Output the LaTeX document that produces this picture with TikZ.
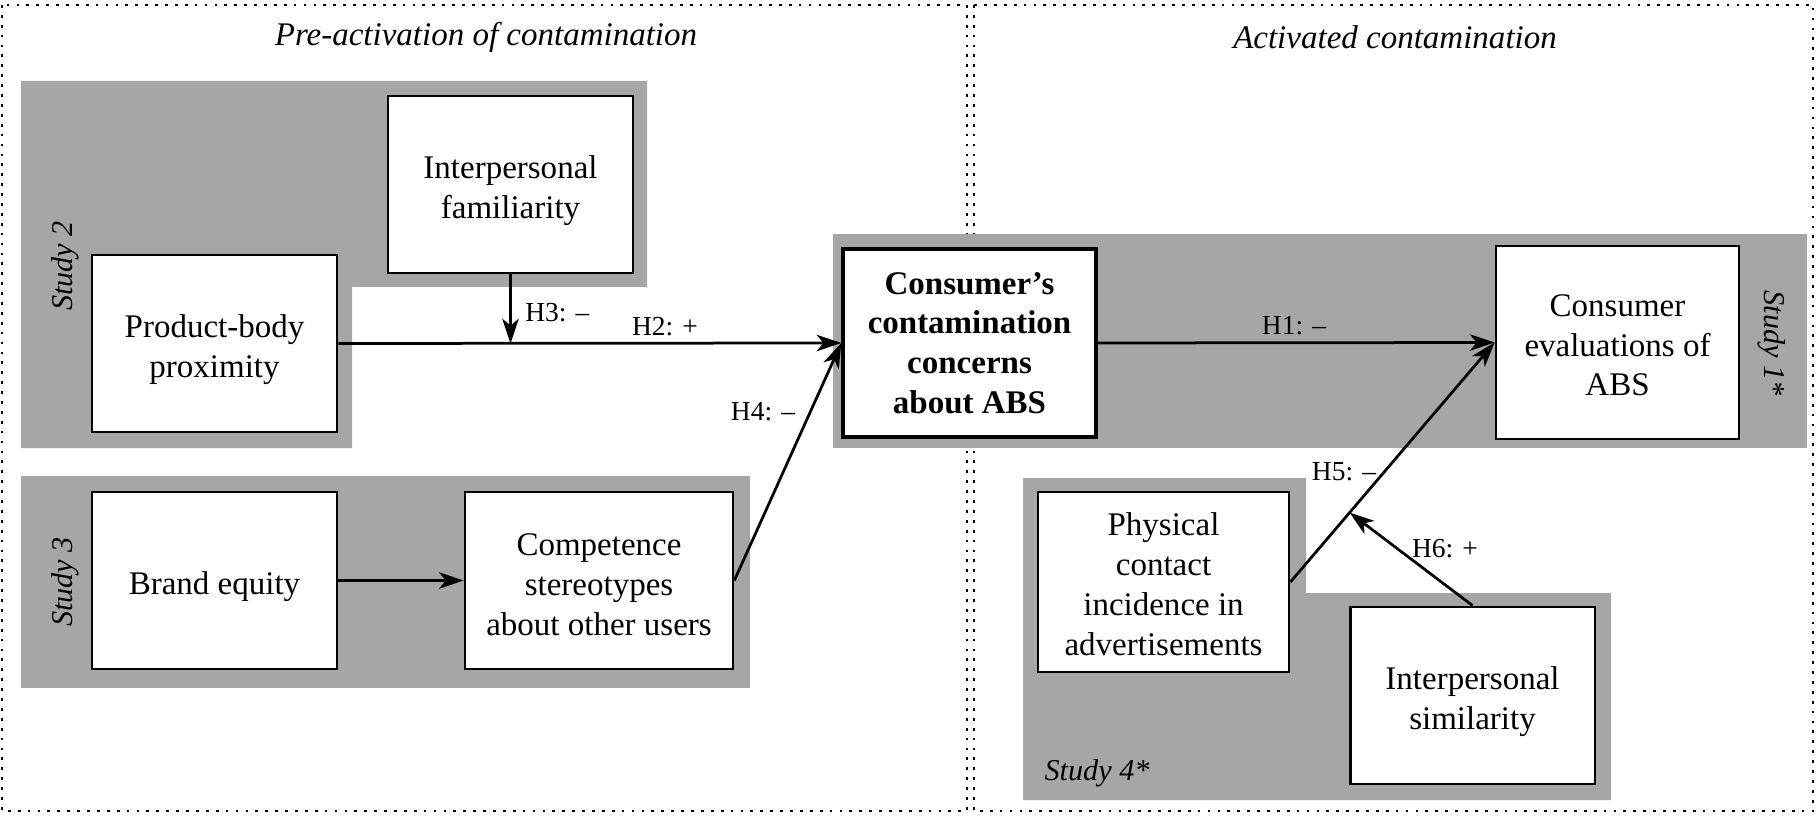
\documentclass[tikz,border=0pt]{standalone}
\usepackage{fontspec}
\setmainfont{Liberation Serif}
\usetikzlibrary{arrows.meta,calc}
\definecolor{studygray}{RGB}{166,166,166}
\newcommand{\topgap}[1]{\rule{0pt}{#1}}

\begin{document}
\begin{tikzpicture}[x=0.3636pt,y=-0.3636pt,
        every node/.style={font=\fontsize{12}{14.5}\selectfont,align=center},
        var/.style={rectangle,draw,fill=white,line width=1pt,inner sep=2pt,minimum width=89pt,minimum height=64.4pt},
        hyp/.style={font=\fontsize{10}{12}\selectfont,inner sep=1pt},
        study/.style={font=\fontsize{11}{13}\selectfont\itshape},
        title/.style={font=\fontsize{12}{14.5}\selectfont\itshape},
        link/.style={-{Stealth[length=9pt,width=6pt,inset=2.5pt]},line width=1pt},
        frame/.style={line width=1pt,dash pattern=on 1pt off 2.6pt}]
        \useasboundingbox (0,0) rectangle (1816,817);
        \draw[frame] (2,5) rectangle (967,811);
        \draw[frame] (974,5) rectangle (1813,811);

        \fill[studygray] (21,81) -- (647,81) -- (647,287) -- (352,287) -- (352,448) -- (21,448) -- cycle;
        \fill[studygray] (21,476) rectangle (750,688);
        \fill[studygray] (833,234) rectangle (1807,448);
        \fill[studygray] (1023,478) -- (1306,478) -- (1306,593) -- (1611,593) -- (1611,800) -- (1023,800) -- cycle;

        \node[title] at (486,37) (pre) {Pre-activation of contamination};
        \node[title] at (1395,37) (act) {Activated contamination};
        \node[study,rotate=90] at (65,266) (s2) {Study 2};
        \node[study,rotate=90] at (65,582) (s3) {Study 3};
        \node[study,rotate=-90] at (1772,343) (s1) {Study 1*};
        \node[study] at (1097,773) (s4) {Study 4*};

        \node[var] at (510.5,184.5) (fam) {\topgap{13pt}Interpersonal\\familiarity};
        \node[var] at (214.5,343.5) (prox) {\topgap{13pt}Product-body\\proximity};
        \node[var] at (214.5,580.5) (brand) {\topgap{13pt}Brand equity};
        \node[var,minimum width=97.4pt] at (599,580.5) (comp) {\topgap{11pt}Competence\\stereotypes\\about other users};
        \node[var,minimum width=92pt,minimum height=68.4pt,line width=1.2pt,font=\fontsize{12}{14.4}\selectfont\bfseries] at (969.5,343) (conc) {Consumer’s\\contamination\\concerns\\about ABS};
        \node[var,minimum width=88.4pt,minimum height=70.2pt] at (1617.5,342.5) (eval) {\topgap{10pt}Consumer\\evaluations of\\ABS};
        \node[var,minimum width=91.3pt,minimum height=65.4pt] at (1163.5,582) (phys) {\topgap{10pt}Physical\\contact\\incidence in\\advertisements};
        \node[var] at (1472.5,695.5) (sim) {\topgap{13pt}Interpersonal\\similarity};

        \coordinate (h3end) at (fam.south |- prox.east);
        \coordinate (h6end) at ($(phys.east)!0.29!(eval.west)$);

        \draw[link] (prox.east) -- (conc.west);
        \draw[link] (fam.south) -- (h3end);
        \draw[link] (brand.east) -- (comp.west);
        \draw[link] (comp.east) -- (conc.west);
        \draw[link] (conc.east) -- (eval.west);
        \draw[link] (phys.east) -- (eval.west);
        \draw[link] (sim.north) -- (h6end);

        \node[hyp] at (665,327) (h2) {H2: +};
        \node[hyp,anchor=west] at (522,313) (h3) {H3: –};
        \node[hyp] at (763,412) (h4) {H4: –};
        \node[hyp] at (1294,326) (h1) {H1: –};
        \node[hyp] at (1344,472) (h5) {H5: –};
        \node[hyp] at (1445,549) (h6) {H6: +};
    \end{tikzpicture}
\end{document}
